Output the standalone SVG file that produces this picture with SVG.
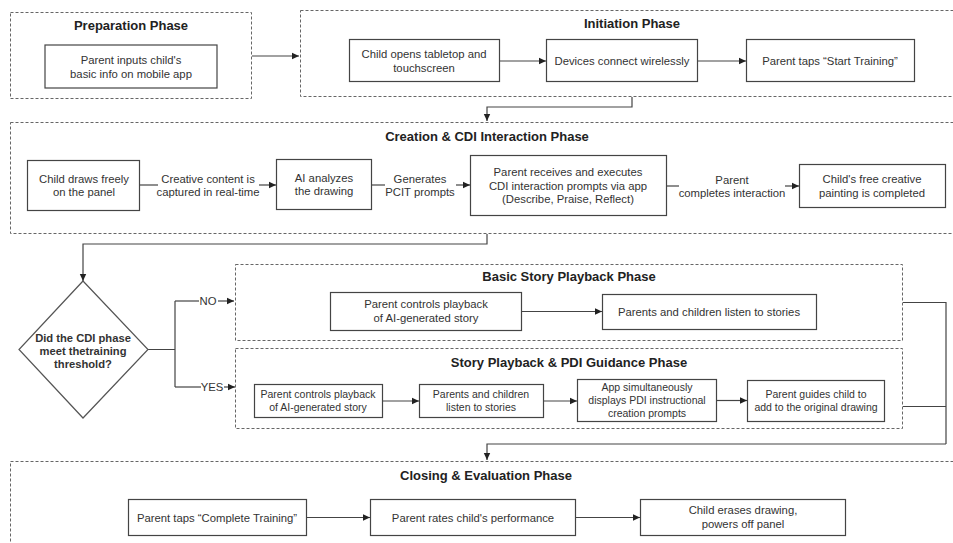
<svg xmlns="http://www.w3.org/2000/svg" width="953" height="543" viewBox="0 0 953 543">
<defs>
<marker id="ah" markerWidth="8" markerHeight="8" refX="7" refY="4" orient="auto" markerUnits="userSpaceOnUse">
<path d="M0,0.8 L7,4 L0,7.2 Z" fill="#222"/>
</marker>
<style>
.phase{fill:none;stroke:#666;stroke-width:1;stroke-dasharray:3,2}
.box{fill:#fff;stroke:#444;stroke-width:1.2}
.t{font-family:"Liberation Sans",Arial,sans-serif;font-size:11.3px;fill:#333;text-anchor:middle}
.s{font-family:"Liberation Sans",Arial,sans-serif;font-size:10.5px;fill:#333;text-anchor:middle}
.h{font-family:"Liberation Sans",Arial,sans-serif;font-size:13px;font-weight:bold;fill:#222;text-anchor:middle}
.b{font-family:"Liberation Sans",Arial,sans-serif;font-size:11.2px;font-weight:bold;fill:#333;text-anchor:middle}
.c{fill:none;stroke:#444;stroke-width:1.2}
.ca{fill:none;stroke:#444;stroke-width:1.2;marker-end:url(#ah)}
</style>
</defs>
<rect width="953" height="543" fill="#fff"/>

<g id="phases">
<rect id="prep" class="phase" x="10.5" y="12.5" width="241" height="86"/>
<rect id="init" class="phase" x="300.5" y="10.5" width="660" height="86"/>
<rect id="creation" class="phase" x="10.5" y="122.5" width="950" height="111"/>
<rect id="basic" class="phase" x="235.5" y="264.5" width="667" height="76"/>
<rect id="pdi" class="phase" x="235.5" y="348.5" width="667" height="80"/>
<rect id="closing" class="phase" x="10.5" y="461.5" width="950" height="100"/>
<text class="h" x="131" y="30">Preparation Phase</text>
<text class="h" x="632" y="28">Initiation Phase</text>
<text class="h" x="487" y="141">Creation &amp; CDI Interaction Phase</text>
<text class="h" x="569" y="281">Basic Story Playback Phase</text>
<text class="h" x="569" y="367">Story Playback &amp; PDI Guidance Phase</text>
<text class="h" x="486" y="480">Closing &amp; Evaluation Phase</text>
</g>

<g id="connectors">
<line class="ca" x1="252" y1="56" x2="299" y2="56"/>
<line class="ca" x1="500" y1="61" x2="546" y2="61"/>
<line class="ca" x1="698" y1="61" x2="746" y2="61"/>
<path class="ca" d="M632,97 V107 H487 V121"/>
<line class="c" x1="140" y1="185" x2="158" y2="185"/>
<line class="ca" x1="259" y1="185" x2="276" y2="185"/>
<text class="t" x="208" y="183">Creative content is</text>
<text class="t" x="208" y="196">captured in real-time</text>
<line class="c" x1="372" y1="185" x2="385" y2="185"/>
<line class="ca" x1="456" y1="185" x2="470" y2="185"/>
<text class="t" x="420" y="183">Generates</text>
<text class="t" x="420" y="196">PCIT prompts</text>
<line class="c" x1="667" y1="186" x2="679" y2="186"/>
<line class="ca" x1="785" y1="186" x2="799" y2="186"/>
<text class="t" x="732" y="184">Parent</text>
<text class="t" x="732" y="197">completes interaction</text>
<path class="ca" d="M487,234 V244 H83 V281"/>
<path class="c" d="M148,349.5 H175 M175,301 V387"/>
<line class="c" x1="175" y1="301" x2="199" y2="301"/>
<line class="ca" x1="218" y1="301" x2="234" y2="301"/>
<text class="t" x="208" y="305">NO</text>
<line class="c" x1="175" y1="387" x2="201" y2="387"/>
<line class="ca" x1="224" y1="387" x2="235" y2="387"/>
<text class="t" x="212" y="391">YES</text>
<line class="ca" x1="522" y1="311.5" x2="602" y2="311.5"/>
<line class="ca" x1="383" y1="401" x2="419" y2="401"/>
<line class="ca" x1="544" y1="401" x2="577" y2="401"/>
<line class="ca" x1="717" y1="400.5" x2="747" y2="400.5"/>
<path class="c" d="M903,302.5 H946 V444 M903,406.5 H946"/>
<path class="ca" d="M946,444 H487 V460"/>
<line class="ca" x1="307" y1="517.5" x2="370" y2="517.5"/>
<line class="ca" x1="576" y1="517.5" x2="640" y2="517.5"/>
</g>

<g id="n_prep1"><rect class="box" x="45" y="45" width="172" height="43"/>
<text class="t" x="131" y="64">Parent inputs child's</text><text class="t" x="131" y="78">basic info on mobile app</text></g>

<g id="n_init1"><rect class="box" x="349.5" y="39.5" width="150" height="42"/>
<text class="t" x="424" y="58">Child opens tabletop and</text><text class="t" x="424" y="72">touchscreen</text></g>
<g id="n_init2"><rect class="box" x="546.5" y="39.5" width="151" height="42"/>
<text class="t" x="622" y="65">Devices connect wirelessly</text></g>
<g id="n_init3"><rect class="box" x="746.5" y="39.5" width="168" height="42"/>
<text class="t" x="830" y="65">Parent taps “Start Training”</text></g>

<g id="n_cdi1"><rect class="box" x="27.5" y="160.5" width="112" height="50"/>
<text class="t" x="84" y="183">Child draws freely</text><text class="t" x="84" y="196">on the panel</text></g>
<g id="n_cdi2"><rect class="box" x="276.5" y="159.5" width="95" height="50"/>
<text class="t" x="324" y="182">AI analyzes</text><text class="t" x="324" y="195">the drawing</text></g>
<g id="n_cdi3"><rect class="box" x="470.5" y="155.5" width="196" height="60"/>
<text class="t" x="568" y="176">Parent receives and executes</text><text class="t" x="568" y="189.5">CDI interaction prompts via app</text><text class="t" x="568" y="203">(Describe, Praise, Reflect)</text></g>
<g id="n_cdi4"><rect class="box" x="799.5" y="164.5" width="146" height="43"/>
<text class="t" x="872" y="183">Child's free creative</text><text class="t" x="872" y="197">painting is completed</text></g>

<g id="n_decision"><polygon points="83,281 148,349.5 83,418 19,349.5" fill="#fff" stroke="#555" stroke-width="1.2"/>
<text class="b" x="83" y="342">Did the CDI phase</text><text class="b" x="83" y="355">meet thetraining</text><text class="b" x="83" y="368">threshold?</text></g>

<g id="n_basic1"><rect class="box" x="330.5" y="292.5" width="191" height="38"/>
<text class="t" x="426" y="308">Parent controls playback</text><text class="t" x="426" y="322">of AI-generated story</text></g>
<g id="n_basic2"><rect class="box" x="602.5" y="294.5" width="214" height="35"/>
<text class="t" x="709" y="316">Parents and children listen to stories</text></g>

<g id="n_pdi1"><rect class="box" x="254.5" y="384.5" width="128" height="33"/>
<text class="s" x="318" y="398">Parent controls playback</text><text class="s" x="318" y="411">of AI-generated story</text></g>
<g id="n_pdi2"><rect class="box" x="419.5" y="384.5" width="124" height="33"/>
<text class="s" x="481" y="398">Parents and children</text><text class="s" x="481" y="411">listen to stories</text></g>
<g id="n_pdi3"><rect class="box" x="577.5" y="379.5" width="139" height="42"/>
<text class="s" x="647" y="391">App simultaneously</text><text class="s" x="647" y="404">displays PDI instructional</text><text class="s" x="647" y="417">creation prompts</text></g>
<g id="n_pdi4"><rect class="box" x="747.5" y="380.5" width="137" height="41"/>
<text class="s" x="816" y="398">Parent guides child to</text><text class="s" x="816" y="411">add to the original drawing</text></g>

<g id="n_close1"><rect class="box" x="128.5" y="499.5" width="178" height="36"/>
<text class="t" x="217" y="522">Parent taps “Complete Training”</text></g>
<g id="n_close2"><rect class="box" x="370.5" y="499.5" width="205" height="36"/>
<text class="t" x="473" y="522">Parent rates child's performance</text></g>
<g id="n_close3"><rect class="box" x="640.5" y="499.5" width="205" height="36"/>
<text class="t" x="743" y="514">Child erases drawing,</text><text class="t" x="743" y="528">powers off panel</text></g>
</svg>
